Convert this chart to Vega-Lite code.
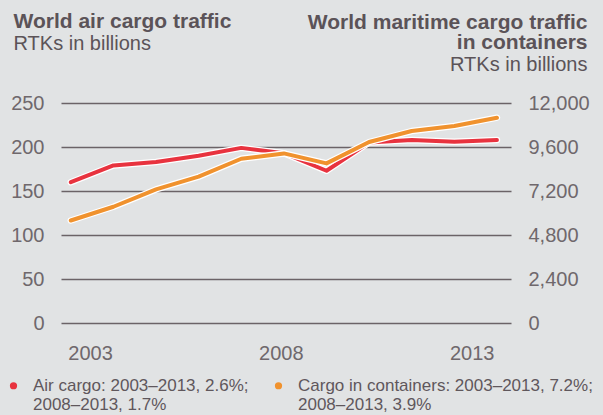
{
  "$schema": "https://vega.github.io/schema/vega-lite/v6.json",
  "width": 450,
  "height": 220,
  "autosize": {"type": "none"},
  "padding": {"left": 61, "top": 103, "right": 92, "bottom": 92},
  "background": "#e1e3e4",
  "config": {
    "view": {"stroke": null},
    "font": "Liberation Sans",
    "axis": {"labelFont": "Liberation Sans", "titleFont": "Liberation Sans"}
  },
  "data": {
    "values": [
      {"year": 2003, "air": 160, "containers": 5590},
      {"year": 2004, "air": 179, "containers": 6340},
      {"year": 2005, "air": 183, "containers": 7285},
      {"year": 2006, "air": 190, "containers": 7980},
      {"year": 2007, "air": 199, "containers": 8960},
      {"year": 2008, "air": 193, "containers": 9250},
      {"year": 2009, "air": 173, "containers": 8705},
      {"year": 2010, "air": 205, "containers": 9870},
      {"year": 2011, "air": 208, "containers": 10470},
      {"year": 2012, "air": 206, "containers": 10745},
      {"year": 2013, "air": 208, "containers": 11200}
    ]
  },
  "layer": [
    {
      "encoding": {
        "x": {
          "field": "year", "type": "quantitative",
          "scale": {"domain": [2002.77, 2013.33], "nice": false, "zero": false},
          "axis": {
            "orient": "bottom", "values": [2003, 2008, 2013], "format": "d",
            "grid": false, "domain": false, "ticks": false, "tickSize": 0,
            "labelFlush": 20, "labelOffset": -3, "labelPadding": 20,
            "labelFontSize": 20, "labelColor": "#6f686c",
            "title": "RTKs in billions", "titleFontWeight": "normal", "titleFontSize": 20,
            "titleColor": "#5b5358", "titleAlign": "left", "titleBaseline": "alphabetic",
            "titleAngle": 0, "titleX": -48, "titleY": -274
          }
        },
        "y": {
          "field": "air", "type": "quantitative",
          "scale": {"domain": [0, 250], "nice": false},
          "axis": {
            "orient": "left", "values": [0, 50, 100, 150, 200, 250],
            "grid": true, "gridColor": "#6b6367", "gridWidth": 1.5,
            "domain": false, "ticks": false, "tickSize": 0, "labelPadding": 17,
            "labelFontSize": 20, "labelColor": "#6f686c",
            "title": "World air cargo traffic", "titleAngle": 0, "titleAlign": "left",
            "titleBaseline": "alphabetic", "titleX": -48, "titleY": -76,
            "titleFontSize": 21, "titleFontWeight": "bold", "titleColor": "#5b5358"
          }
        }
      },
      "layer": [
        {"mark": {"type": "line", "color": "white", "strokeWidth": 6.5, "strokeJoin": "round", "strokeCap": "round"}},
        {
          "mark": {"type": "line", "strokeWidth": 4, "strokeJoin": "round", "strokeCap": "round"},
          "encoding": {
            "color": {
              "datum": "Air cargo",
              "scale": {"domain": ["Air cargo", "Cargo in containers"], "range": ["#e8333f", "#f0922e"]},
              "legend": {
                "orient": "none", "legendX": -56, "legendY": 274, "direction": "horizontal",
                "title": null, "padding": 0, "symbolType": "circle", "symbolSize": 14,
                "symbolStrokeWidth": 3.5,
                "labelFont": "Liberation Sans", "labelFontSize": 17, "labelColor": "#5f575c",
                "labelLimit": 400, "labelOffset": 11, "columnPadding": 20, "labelBaseline": "middle",
                "labelExpr": "datum.label == 'Air cargo' ? ['Air cargo: 2003–2013, 2.6%;', '2008–2013, 1.7%'] : ['Cargo in containers: 2003–2013, 7.2%;', '2008–2013, 3.9%']",
                "encoding": {
                  "labels": {"update": {"dy": {"value": 9.5}}}
                }
              }
            }
          }
        }
      ]
    },
    {
      "encoding": {
        "x": {
          "field": "year", "type": "quantitative",
          "axis": {
            "orient": "top", "labels": false, "grid": false, "domain": false, "ticks": false, "tickSize": 0,
            "title": "RTKs in billions", "titleFontWeight": "normal", "titleFontSize": 20,
            "titleColor": "#5b5358", "titleAlign": "right", "titleBaseline": "alphabetic",
            "titleAngle": 0, "titleX": 526, "titleY": -33
          }
        },
        "y": {
          "field": "containers", "type": "quantitative",
          "scale": {"domain": [0, 12000], "nice": false},
          "axis": {
            "orient": "right", "values": [0, 2400, 4800, 7200, 9600, 12000], "format": ",.0f",
            "grid": false, "domain": false, "ticks": false, "tickSize": 0, "labelPadding": 17,
            "labelFontSize": 20, "labelColor": "#6f686c",
            "title": ["World maritime cargo traffic", "in containers"], "titleAngle": 0,
            "titleAlign": "right", "titleBaseline": "alphabetic", "titleLineHeight": 20,
            "titleX": 76, "titleY": -75,
            "titleFontSize": 21, "titleFontWeight": "bold", "titleColor": "#5b5358"
          }
        }
      },
      "layer": [
        {"mark": {"type": "line", "color": "white", "strokeWidth": 6.5, "strokeJoin": "round", "strokeCap": "round"}},
        {
          "mark": {"type": "line", "strokeWidth": 4, "strokeJoin": "round", "strokeCap": "round"},
          "encoding": {"color": {"datum": "Cargo in containers"}}
        }
      ]
    }
  ],
  "resolve": {"scale": {"y": "independent"}, "axis": {"x": "independent", "y": "independent"}}
}
